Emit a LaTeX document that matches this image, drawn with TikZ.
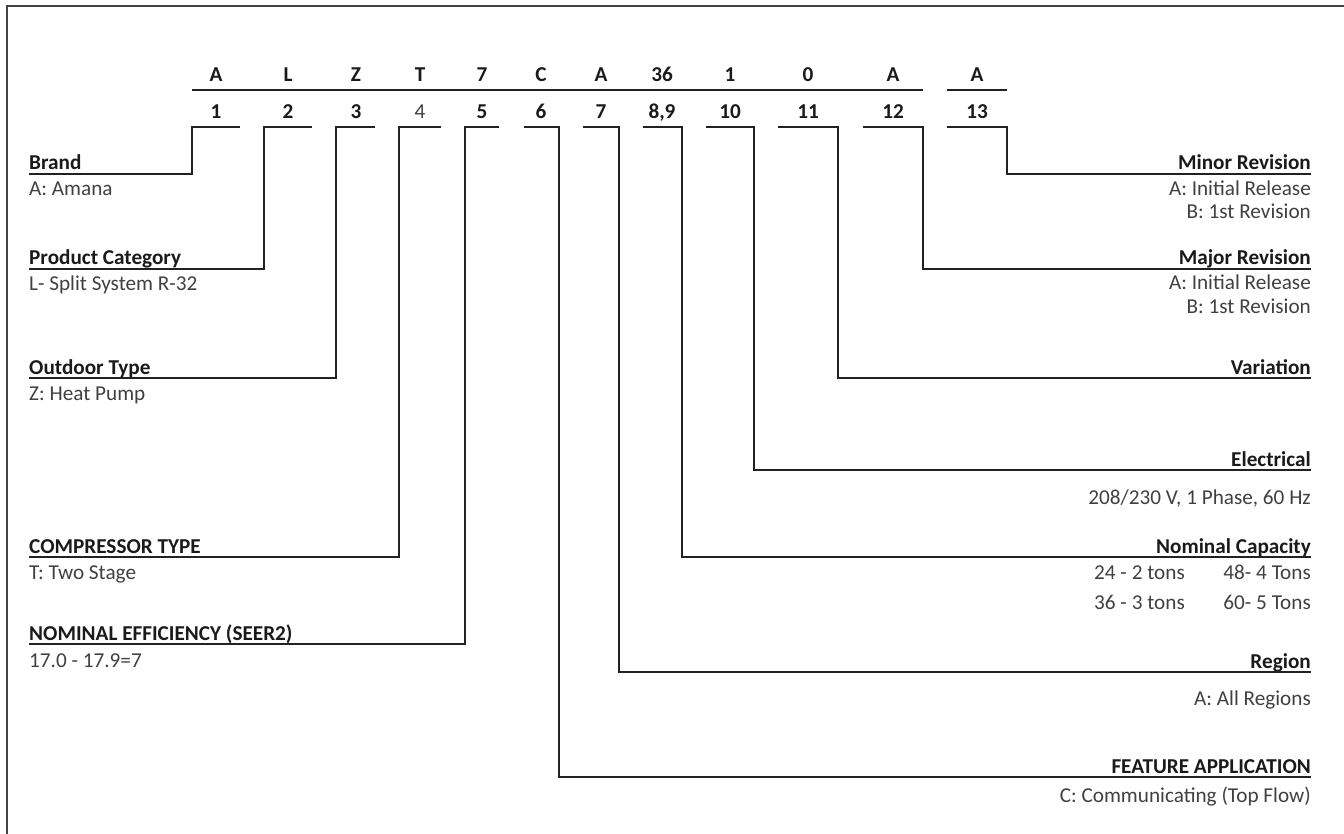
\documentclass[tikz,border=0pt]{standalone}
\usepackage{fontspec}
\setmainfont{Carlito}
\definecolor{ink}{HTML}{1A1A1A}
\definecolor{valc}{HTML}{404040}
\definecolor{framec}{HTML}{444444}
\definecolor{linec}{HTML}{222222}
\begin{document}
\begin{tikzpicture}[x=1pt,y=-1pt,
  lab/.style={font=\fontsize{21.2}{25}\selectfont\bfseries, text=ink, inner sep=0pt},
  valtxt/.style={font=\fontsize{21.2}{25}\selectfont, text=valc, inner sep=0pt},
  codetxt/.style={font=\fontsize{21.2}{25}\selectfont\bfseries, text=ink, inner sep=0pt, anchor=base},
  leader/.style={draw=linec, line width=1.3pt},
  hdr/.style={draw=linec, line width=2pt},
  framel/.style={draw=framec, line width=2pt}]
\useasboundingbox (0,0) rectangle (1344,834);
\draw[framel] (7,834) -- (7,6.5) -- (1344,6.5);

% code letters
\foreach \n/\x/\t in {1/216/A,2/288/L,3/356/Z,4/420/T,5/482/7,6/541/C,7/601/A,8/662/36,9/730/1,10/808/0,11/893/A,12/977/A}
  \node[codetxt] (l\n) at (\x,82) {\t};
% position numbers
\foreach \n/\x/\t in {1/216/1,2/288/2,3/356/3,5/482/5,6/541/6,7/601/7,8/662/{8,9},9/730/10,10/808/11,11/893/12,12/977/13}
  \node[codetxt] (n\n) at (\x,119) {\t};
\node[codetxt, font=\fontsize{21.2}{25}\selectfont, text=valc] (n4) at (420,119) {4};

% header rules
\coordinate (h1) at (192,90); \coordinate (h2) at (923,90);
\coordinate (h3) at (947,90); \coordinate (h4) at (1007,90);
\draw[hdr] (h1) -- (h2);
\draw[hdr] (h3) -- (h4);

% left labels
\node[lab, anchor=base west] (brand) at (29,170) {Brand};
\node[valtxt, anchor=base west] (brandv) at (29,196) {A: Amana};
\node[lab, anchor=base west] (prod) at (29,265) {Product Category};
\node[valtxt, anchor=base west] (prodv) at (29,291) {L- Split System R-32};
\node[lab, anchor=base west] (outd) at (29,374) {Outdoor Type};
\node[valtxt, anchor=base west] (outdv) at (29,400) {Z: Heat Pump};
\node[lab, anchor=base west] (comp) at (29,553) {COMPRESSOR TYPE};
\node[valtxt, anchor=base west] (compv) at (29,579) {T: Two Stage};
\node[lab, anchor=base west] (eff) at (29,640) {NOMINAL EFFICIENCY (SEER2)};
\node[valtxt, anchor=base west] (effv) at (29,667) {17.0 - 17.9=7};

% right labels
\node[lab, anchor=base east] (minor) at (1311,170) {Minor Revision};
\node[valtxt, anchor=base east] (minorv1) at (1311,196) {A: Initial Release};
\node[valtxt, anchor=base east] (minorv2) at (1311,219) {B: 1st Revision};
\node[lab, anchor=base east] (major) at (1311,265) {Major Revision};
\node[valtxt, anchor=base east] (majorv1) at (1311,290) {A: Initial Release};
\node[valtxt, anchor=base east] (majorv2) at (1311,314) {B: 1st Revision};
\node[lab, anchor=base east] (var) at (1311,374) {Variation};
\node[lab, anchor=base east] (elec) at (1311,466) {Electrical};
\node[valtxt, anchor=base east] (elecv) at (1311,504) {208/230 V, 1 Phase, 60 Hz};
\node[lab, anchor=base east] (cap) at (1311,553) {Nominal Capacity};
\node[valtxt, anchor=base east] (capa) at (1185,579) {24 - 2 tons};
\node[valtxt, anchor=base east] (capb) at (1311,579) {48- 4 Tons};
\node[valtxt, anchor=base east] (capc) at (1185,609) {36 - 3 tons};
\node[valtxt, anchor=base east] (capd) at (1311,609) {60- 5 Tons};
\node[lab, anchor=base east] (reg) at (1311,668) {Region};
\node[valtxt, anchor=base east] (regv) at (1311,705) {A: All Regions};
\node[lab, anchor=base east] (feat) at (1311,773) {FEATURE APPLICATION};
\node[valtxt, anchor=base east] (featv) at (1311,802) {C: Communicating (Top Flow)};

% leaders, left side: (xr) -- (xl) -- down -- left end
\foreach \n/\xl/\xr/\yb in {1/192/240/174,2/264/312/269,3/336/375/378,4/399/441/557,5/465/499/644}{
  \coordinate (sa\n) at (\xl,127);
  \coordinate (sb\n) at (\xr,127);
  \coordinate (se\n) at (29,\yb);
  \draw[leader] (sb\n) -- (sa\n) -- (sa\n |- se\n) -- (se\n);
}
% leaders, right side: (xl) -- (xr) -- down -- right end
\foreach \n/\xl/\xr/\yb in {6/524/559/777,7/583/619/672,8/643/682/557,9/706/754/470,10/778/838/378,11/863/923/269,12/947/1007/174}{
  \coordinate (sa\n) at (\xl,127);
  \coordinate (sb\n) at (\xr,127);
  \coordinate (se\n) at (1311,\yb);
  \draw[leader] (sa\n) -- (sb\n) -- (sb\n |- se\n) -- (se\n);
}
\end{tikzpicture}
\end{document}
